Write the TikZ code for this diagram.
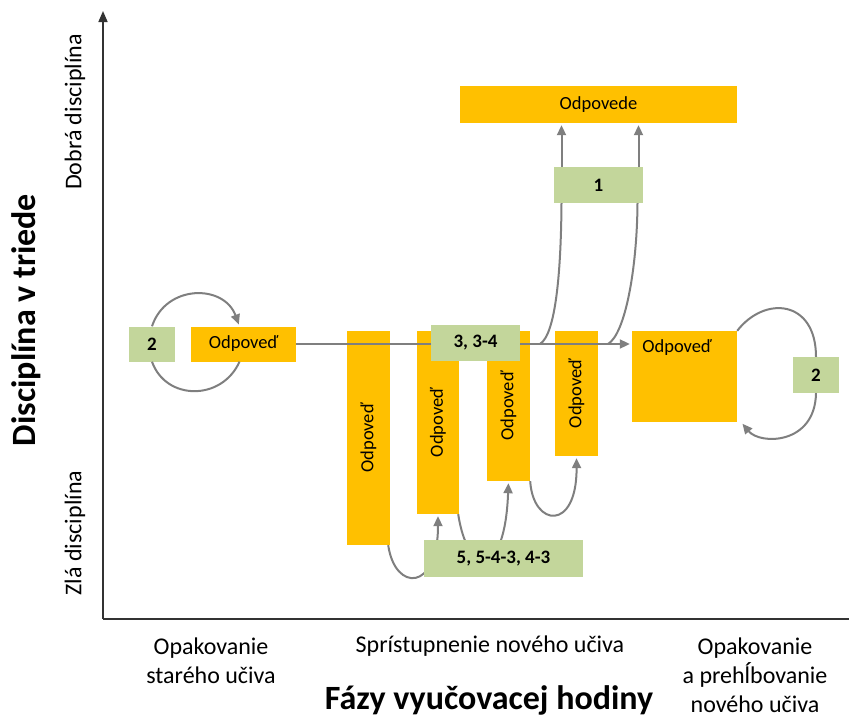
\documentclass[tikz,border=0pt]{standalone}
\usepackage{fontspec}
\setmainfont{Carlito}
\usetikzlibrary{arrows.meta}

\begin{document}
\begin{tikzpicture}[x=1pt,y=-1pt,
		answerbox/.style={fill=answerorange,inner sep=0pt,font=\fontsize{18.5}{20}\selectfont},
		codebox/.style={fill=codegreen,inner sep=0pt,font=\fontsize{19}{20}\selectfont\bfseries},
		flowline/.style={draw=linegray,line width=2pt},
		flowarrow/.style={flowline,-{Triangle[length=10pt,width=9pt]},shorten >=2pt},
		axisline/.style={draw=black!80,line width=1.6pt},
		phase/.style={font=\fontsize{24}{29}\selectfont,align=center},
		title/.style={font=\fontsize{34}{36}\selectfont\bfseries}]
		\definecolor{answerorange}{HTML}{FFC000}
		\definecolor{codegreen}{HTML}{C3D69B}
		\definecolor{linegray}{HTML}{7F7F7F}
		
		\useasboundingbox (0,0) rectangle (849,720);
		
		% axes
		\coordinate (origin) at (103,619);
		\coordinate (ytop) at (103,11);
		\coordinate (xend) at (849,619);
		\draw[axisline,-{Triangle[length=11pt,width=9pt]}] (origin) -- (ytop);
		\draw[axisline] (origin) -- (xend);
		
		% labels
		\node[phase,rotate=90] (good) at (75,112) {Dobrá disciplína};
		\node[phase,rotate=90] (bad) at (75,533) {Zlá disciplína};
		\node[title,rotate=90] (ytitle) at (26,320) {Disciplína v triede};
		\node[phase] (phaseA) at (211,661) {Opakovanie\\starého učiva};
		\node[phase] (phaseB) at (490,646) {Sprístupnenie nového učiva};
		\node[phase] (phaseC) at (755,675) {Opakovanie\\a prehĺbovanie\\nového učiva};
		\node[title] (xtitle) at (489,700) {Fázy vyučovacej hodiny};
		
		% old material
		\node[codebox,minimum width=46pt,minimum height=35pt] (twoL) at (152,344) {2};
		\node[answerbox,minimum width=105pt,minimum height=35pt] (answerL) at (243.5,344) {Odpoveď};
		\draw[flowarrow] (twoL.north) .. controls (166,284) and (224,284) .. ([xshift=-4pt]answerL.north);
		\draw[flowline] ([xshift=-4pt]answerL.south) .. controls (222,401) and (166,401) .. (twoL.south);
		
		% new material
		\node[answerbox,minimum width=43pt,minimum height=214pt] (tallA) at (368.5,438) {\rotatebox{90}{Odpoveď}};
		\node[answerbox,minimum width=42pt,minimum height=183pt] (tallB) at (438,422.5) {\rotatebox{90}{Odpoveď}};
		\node[answerbox,minimum width=43pt,minimum height=150pt] (tallC) at (508.5,406) {\rotatebox{90}{Odpoveď}};
		\node[answerbox,minimum width=43pt,minimum height=125pt] (tallD) at (576.5,393.5) {\rotatebox{90}{Odpoveď}};
		\draw[flowarrow] ([xshift=-2pt]tallA.south east) .. controls (395,592) and (438,592) .. (tallB.south);
		\draw[flowarrow] ([xshift=-1pt]tallB.south east) .. controls (468,578) and (505,580) .. (tallC.south);
		\draw[flowarrow] (tallC.south east) .. controls (533,527) and (577,532) .. (tallD.south);
		\node[codebox,minimum width=159pt,minimum height=37pt] (codeE) at (503.5,558.5) {5, 5-4-3, 4-3};
		
		% review
		\node[answerbox,minimum width=105pt,minimum height=91pt,
			label={[anchor=north west,xshift=7pt,yshift=-5pt,font=\fontsize{18.5}{20}\selectfont]north west:Odpoveď}] (answerR) at (684.5,376.5) {};
		\node[codebox,minimum width=46pt,minimum height=36pt] (twoR) at (816,375) {2};
		\draw[flowline] (answerR.north east) .. controls (765,295) and (816,300) .. (twoR.north);
		\draw[flowarrow] (twoR.south) .. controls (815,445) and (760,445) .. ([xshift=4pt]answerR.south east);
		
		% main line
		\draw[flowarrow] (answerL.east) -- (answerL.east -| answerR.west);
		\node[codebox,minimum width=89pt,minimum height=36pt] (codeC) at (475.5,343) {3, 3-4};
		
		% good answers
		\node[answerbox,minimum width=277pt,minimum height=37pt] (answers) at (598.5,104.5) {Odpovede};
		\node[codebox,minimum width=89pt,minimum height=36pt] (one) at (598.5,185) {1};
		\coordinate (upA) at ([xshift=-37pt]one.north);
		\coordinate (upB) at ([xshift=40pt]one.north);
		\coordinate (downA) at ([xshift=-37pt]one.south);
		\coordinate (downB) at ([xshift=39pt]one.south);
		\coordinate (forkA) at (540,344);
		\coordinate (forkB) at (608,344);
		\draw[flowarrow] (upA) -- (upA |- answers.south);
		\draw[flowarrow] (upB) -- (upB |- answers.south);
		\draw[flowline] (forkA) .. controls (556,334) and (561,270) .. (downA);
		\draw[flowline] (forkB) .. controls (625,334) and (637,270) .. (downB);
\end{tikzpicture}
\end{document}
